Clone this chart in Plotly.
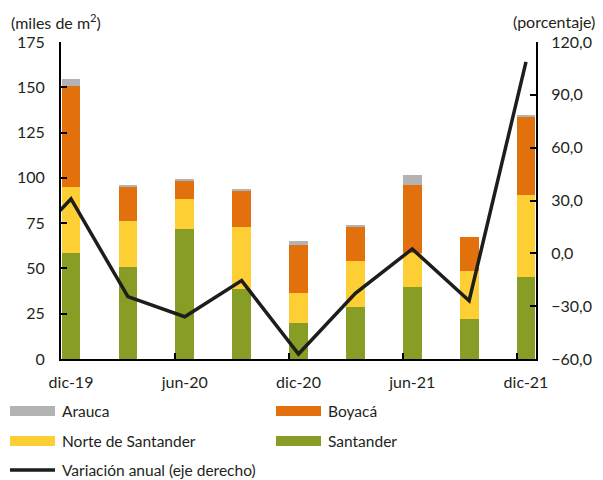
import plotly.graph_objects as go

# ---- data ----
months = ["dic-19", "mar-20", "jun-20", "sep-20", "dic-20", "mar-21", "jun-21", "sep-21", "dic-21"]
santander = [58.7, 51.0, 71.8, 38.7, 20.0, 28.9, 39.9, 22.3, 45.4]
norte = [36.4, 25.4, 16.5, 34.2, 16.6, 25.4, 18.5, 26.5, 45.2]
boyaca = [55.8, 18.4, 10.0, 19.7, 26.3, 18.6, 37.5, 18.6, 42.9]
arauca = [3.5, 1.3, 1.1, 1.3, 2.3, 1.1, 5.7, 0.0, 1.2]
variacion = [30.9, -24.6, -36.0, -15.5, -57.2, -22.7, 2.5, -26.9, 108.7]
variacion_prev = -3.0  # previous quarter, only its segment entering the plot is visible
left_ticks = [0, 25, 50, 75, 100, 125, 150, 175]
right_ticks = [-60, -30, 0, 30, 60, 90, 120]

C_SANT = "#879d26"
C_NORTE = "#fdcf35"
C_BOY = "#e2700c"
C_ARA = "#b3b3b3"
C_LINE = "#1d1d1b"

OFF = 8  # default page body margin
W, H = 603 - OFF, 480 - OFF
L, R, T, B = 61 - OFF, 536 - OFF, 42 - OFF, 359 - OFF
BAR_W = 0.33

x = list(range(len(months)))
fig = go.Figure()
for name, vals, col in [("Santander", santander, C_SANT), ("Norte de Santander", norte, C_NORTE),
                        ("Boyacá", boyaca, C_BOY), ("Arauca", arauca, C_ARA)]:
    fig.add_trace(go.Bar(x=x, y=vals, name=name, marker=dict(color=col, line=dict(width=0)),
                         width=BAR_W, showlegend=False))

fig.add_trace(go.Scatter(x=[-1] + x, y=[variacion_prev] + variacion, mode="lines",
                         line=dict(color=C_LINE, width=3.5), yaxis="y2",
                         name="Variación anual (eje derecho)", showlegend=False))

# invisible helper traces so the tick-mark-only axes are drawn
for xa, ya in [("x2", "y"), ("x", "y3"), ("x", "y4")]:
    fig.add_trace(go.Scatter(x=[0], y=[0], xaxis=xa, yaxis=ya, mode="markers",
                             marker=dict(opacity=0), hoverinfo="skip", showlegend=False))

xr = [-0.176, len(months) - 1 + 0.176]
lab_idx = list(range(0, len(months), 2))
TICKFONT = dict(size=16)
GHOST = "rgba(0,0,0,0)"
fig.update_layout(
    width=W, height=H, autosize=False,
    margin=dict(l=L, r=W - R, t=T, b=H - B, pad=0),
    paper_bgcolor="white", plot_bgcolor="white",
    font=dict(family="Lato", size=15, color="#231f20"),
    separators=",.",
    barmode="stack", bargap=0,
    # x labels
    xaxis=dict(range=xr, tickvals=lab_idx, ticktext=[months[i] for i in lab_idx],
               ticks="outside", ticklen=8, tickcolor=GHOST, showline=True, linewidth=2,
               linecolor="black", showgrid=False, zeroline=False, tickfont=TICKFONT,
               automargin=False),
    # x tick marks (at bar edges)
    xaxis2=dict(range=xr, overlaying="x", anchor="y", side="bottom",
                tickvals=[i - BAR_W / 2 for i in lab_idx], ticks="inside", ticklen=6,
                tickwidth=2, tickcolor="black", showticklabels=False, showgrid=False,
                zeroline=False, showline=False, automargin=False),
    # left labels
    yaxis=dict(range=[0, 175], tickvals=left_ticks, ticks="outside", ticklen=11,
               tickcolor=GHOST, showline=True, linewidth=2, linecolor="black",
               showgrid=False, zeroline=False, tickfont=TICKFONT, automargin=False),
    # right labels
    yaxis2=dict(range=[-60, 120], tickvals=right_ticks, tickformat=".1f", overlaying="y",
                side="right", ticks="outside", ticklen=10, tickcolor=GHOST,
                showline=True, linewidth=2, linecolor="black", showgrid=False,
                zeroline=False, tickfont=TICKFONT, automargin=False),
    # inside tick marks
    yaxis3=dict(range=[0, 175], tickvals=left_ticks, overlaying="y", side="left", anchor="x",
                ticks="inside", ticklen=6, tickwidth=2, tickcolor="black",
                showticklabels=False, showline=False, showgrid=False, zeroline=False,
                automargin=False),
    yaxis4=dict(range=[-60, 120], tickvals=right_ticks, overlaying="y", side="right",
                anchor="x", ticks="inside", ticklen=6, tickwidth=2, tickcolor="black",
                showticklabels=False, showline=False, showgrid=False, zeroline=False,
                automargin=False),
)

def px(xp):
    return (xp - OFF - L) / (R - L)

def py(yp):
    return (B - (yp - OFF)) / (B - T)

annotations = [
    dict(text="(miles de m<sup>2</sup>)", x=px(9), y=py(22), xanchor="left", yanchor="middle",
         font=dict(size=16)),
    dict(text="(porcentaje)", x=px(597), y=py(22), xanchor="right", yanchor="middle",
         font=dict(size=16)),
]
shapes = []
legend_items = [
    ("Arauca", C_ARA, 10, 411, "bar"),
    ("Boyacá", C_BOY, 276, 411, "bar"),
    ("Norte de Santander", C_NORTE, 10, 441, "bar"),
    ("Santander", C_SANT, 276, 441, "bar"),
    ("Variación anual (eje derecho)", C_LINE, 10, 470, "line"),
]
for text, col, x0, yc, kind in legend_items:
    if kind == "bar":
        shapes.append(dict(type="rect", xref="paper", yref="paper", x0=px(x0), x1=px(x0 + 45),
                           y0=py(yc + 5), y1=py(yc - 5), fillcolor=col, line=dict(width=0)))
    else:
        shapes.append(dict(type="line", xref="paper", yref="paper", x0=px(x0), x1=px(x0 + 45),
                           y0=py(yc), y1=py(yc), line=dict(color=col, width=3.5)))
    annotations.append(dict(text=text, x=px(x0 + 50), y=py(yc), xanchor="left", yanchor="middle",
                            font=dict(size=15.5)))

for a in annotations:
    a.update(xref="paper", yref="paper", showarrow=False)
fig.update_layout(annotations=annotations, shapes=shapes)

fig.write_html("out.html")
